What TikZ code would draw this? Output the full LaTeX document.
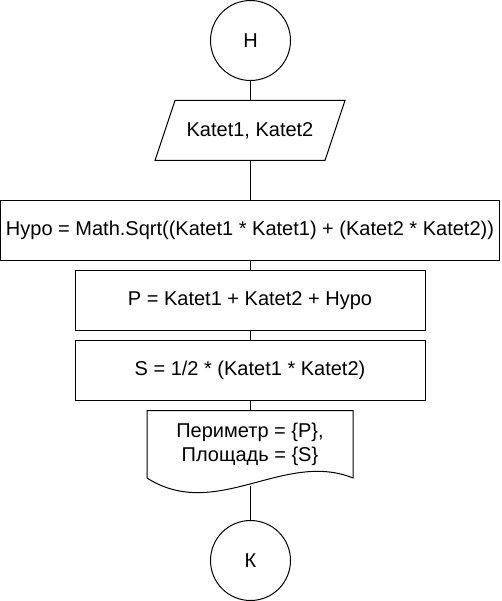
\documentclass[tikz,border=0pt]{standalone}
\usepackage{fontspec}
\setmainfont{Liberation Sans}
\begin{document}
\begin{tikzpicture}[x=1pt,y=-1pt,
  txt/.style={font=\fontsize{20}{24}\selectfont, align=center, inner sep=0},
  term/.style={draw, circle, minimum size=80pt, inner sep=0, line width=1pt, txt},
  proc/.style={draw, rectangle, minimum height=60pt, inner sep=0, line width=1pt, txt},
  link/.style={draw, line width=1pt}]
\useasboundingbox (0,0) rectangle (501,601);
\fill[white] (0,0) rectangle (501,601);
% terminals
\node[term] (start) at (250.5,40.5) {Н};
\node[term] (stop) at (250.5,560.5) {К};
% input parallelogram
\node[txt, minimum width=170pt, minimum height=60pt] (in) at (250,130.5) {Katet1, Katet2};
\draw[line width=1pt] (175,100.5) -- (345,100.5) -- (325,160.5) -- (155,160.5) -- cycle;
% processes
\node[proc, minimum width=499pt] (hypo) at (250,230.5) {Hypo = Math.Sqrt((Katet1 * Katet1) + (Katet2 * Katet2))};
\node[proc, minimum width=350pt] (per) at (250,300.5) {P = Katet1 + Katet2 + Hypo};
\node[proc, minimum width=350pt] (area) at (250,370.5) {S = 1/2 * (Katet1 * Katet2)};
% document
\draw[line width=1pt] (147,410.5) -- (353,410.5) -- (353,478)
  .. controls (284,450) and (216,522) .. (147,478) -- cycle;
\node[txt, minimum width=206pt, minimum height=68pt] (out) at (250,444.5) {Периметр = \{P\},\\Площадь = \{S\}};
\coordinate (outb) at (250,486);
% connectors
\path[link] (start.south -| in.north) -- (in.north);
\path[link] (in.south) -- (hypo.north -| in.south);
\path[link] (hypo.south -| in.south) -- (per.north -| in.south);
\path[link] (per.south -| in.south) -- (area.north -| in.south);
\path[link] (area.south -| in.south) -- (out.north);
\path[link] (outb) -- (stop.north -| outb);
\end{tikzpicture}
\end{document}
